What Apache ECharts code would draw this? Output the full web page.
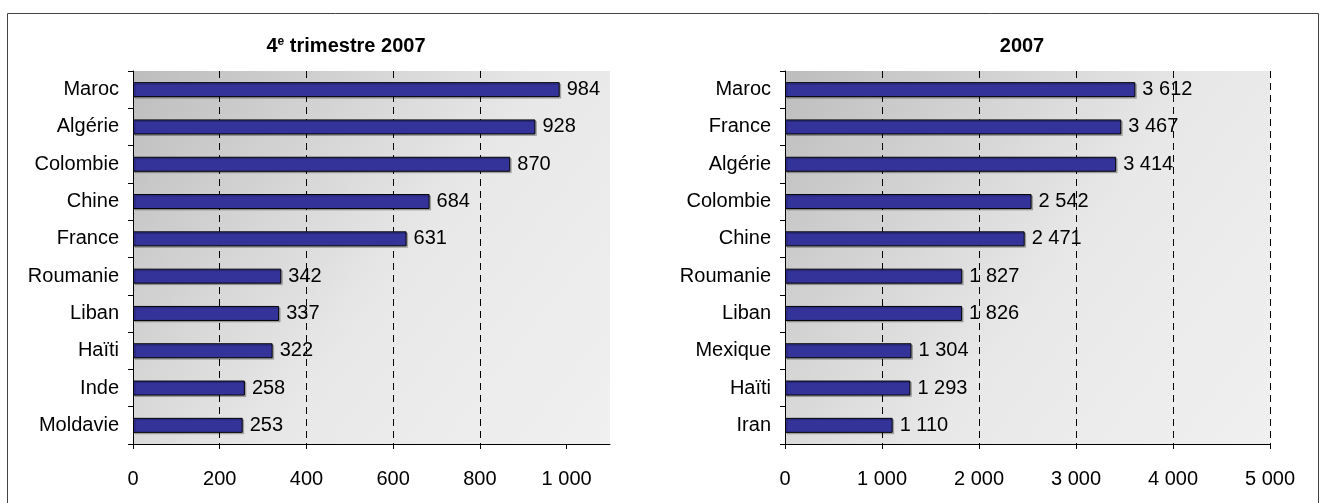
<!DOCTYPE html>
<html>
<head>
<meta charset="utf-8">
<script src="https://cdn.jsdelivr.net/npm/echarts@6/dist/echarts.min.js"></script>
<style>
html,body{margin:0;padding:0;background:#fff;}
#c{width:1321px;height:503px;}
</style>
</head>
<body>
<div id="c"></div>
<script>
// Data
const leftCategories = ['Maroc','Algérie','Colombie','Chine','France','Roumanie','Liban','Haïti','Inde','Moldavie'];
const leftValues = [984, 928, 870, 684, 631, 342, 337, 322, 258, 253];
const rightCategories = ['Maroc','France','Algérie','Colombie','Chine','Roumanie','Liban','Mexique','Haïti','Iran'];
const rightValues = [3612, 3467, 3414, 2542, 2471, 1827, 1826, 1304, 1293, 1110];
const leftTicks = [0, 200, 400, 600, 800, 1000];
const rightTicks = [0, 1000, 2000, 3000, 4000, 5000];
const leftTitle = '{a|4}{s|e}{a| trimestre 2007}';
const rightTitle = '{a|2007}';

const FONT = '"Liberation Sans", Arial, sans-serif';
const fmt = v => String(v).replace(/\B(?=(\d{3})+(?!\d))/g, ' ');

const bg = {
  type: 'linear', x: 0, y: 0, x2: 1, y2: 1,
  colorStops: [
    {offset: 0, color: '#bdbdbd'},
    {offset: 0.55, color: '#e8e8e8'},
    {offset: 1, color: '#f0f0f0'}
  ]
};

function catAxis(idx, cats) {
  return {
    type: 'category', gridIndex: idx, data: cats, inverse: true,
    axisLine: {show: true, lineStyle: {color: '#000', width: 1}},
    axisTick: {show: true, length: 5, inside: false, lineStyle: {color: '#000'}},
    axisLabel: {color: '#000', fontSize: 20, fontFamily: FONT, margin: 14},
    splitLine: {show: false}
  };
}
function valAxis(idx, max, interval, ticks, showMax) {
  return {
    type: 'value', gridIndex: idx, min: 0, max: max, interval: interval,
    axisLine: {show: true, onZero: false, lineStyle: {color: '#000', width: 1}},
    axisTick: {show: true, length: 5, customValues: ticks, lineStyle: {color: '#000'}},
    axisLabel: {color: '#000', fontSize: 20, fontFamily: FONT, margin: 25,
      customValues: ticks, formatter: v => fmt(v)},
    splitLine: {show: true, showMinLine: false, showMaxLine: showMax,
      lineStyle: {color: '#000', type: [7, 5], width: 1}}
  };
}
function barSeries(idx, vals) {
  return {
    type: 'bar', xAxisIndex: idx, yAxisIndex: idx, data: vals,
    barWidth: 15,
    itemStyle: {color: '#333399', borderColor: '#000', borderWidth: 1,
      shadowColor: 'rgba(0,0,0,0.22)', shadowOffsetX: 1.5, shadowOffsetY: 1.5, shadowBlur: 0},
    label: {show: true, position: 'right', distance: 7, color: '#000',
      fontSize: 20, fontFamily: FONT, formatter: p => fmt(p.value)}
  };
}

const titleRich = {
  a: {fontSize: 20, fontWeight: 'bold', fontFamily: FONT, color: '#000'},
  s: {fontSize: 12, fontWeight: 'bold', fontFamily: FONT, color: '#000', verticalAlign: 'top', padding: [0, 0, 9, 0]}
};

const chart = echarts.init(document.getElementById('c'), null, {renderer: 'canvas'});
chart.setOption({
  animation: false,
  backgroundColor: '#fff',
  title: [
    {text: leftTitle, left: 341, top: 31, textAlign: 'center', textStyle: {rich: titleRich}},
    {text: rightTitle, left: 1017, top: 31, textAlign: 'center', textStyle: {rich: titleRich}}
  ],
  graphic: [{
    type: 'rect', silent: true,
    shape: {x: 7.5, y: 13.5, width: 1311, height: 520},
    style: {fill: 'none', stroke: '#444', lineWidth: 1}
  }],
  grid: [
    {left: 133, top: 71, width: 477, height: 373, show: true, backgroundColor: bg, borderWidth: 0, containLabel: false},
    {left: 785, top: 71, width: 485, height: 373, show: true, backgroundColor: bg, borderWidth: 0, containLabel: false}
  ],
  xAxis: [valAxis(0, 1100, 200, leftTicks, false), valAxis(1, 5000, 1000, rightTicks, true)],
  yAxis: [catAxis(0, leftCategories), catAxis(1, rightCategories)],
  series: [barSeries(0, leftValues), barSeries(1, rightValues)]
});
</script>
</body>
</html>
